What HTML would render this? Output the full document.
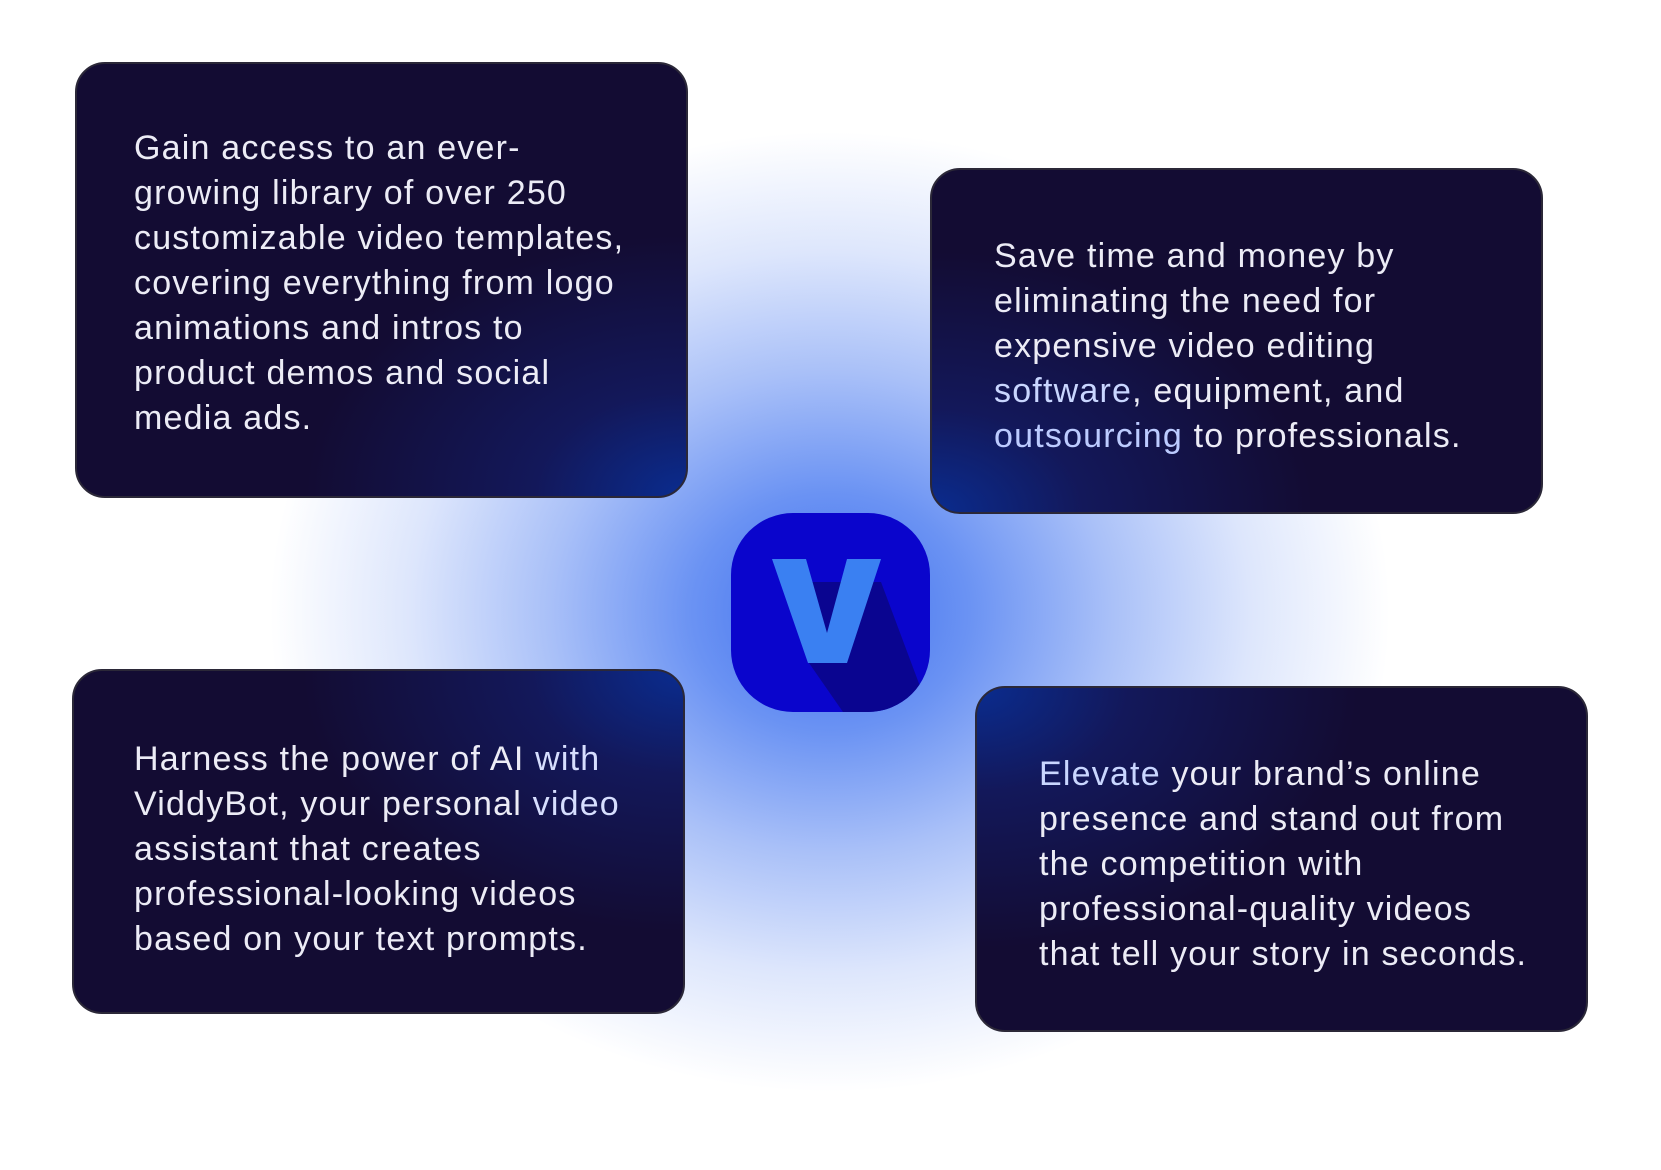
<!DOCTYPE html>
<html><head><meta charset="utf-8"><style>
html,body{margin:0;padding:0;}
body{width:1661px;height:1170px;position:relative;overflow:hidden;background:#fff;font-family:"Liberation Sans",sans-serif;}
.glow{position:absolute;left:0;top:0;width:1661px;height:1170px;
background:radial-gradient(ellipse 560px 480px at 830px 612px,#3f6ff0 0%,#6b93f3 25%,#a9c0f8 50%,#dde6fc 75%,rgba(255,255,255,0) 100%);}
.box{position:absolute;box-sizing:border-box;border:2.5px solid #2b2838;border-radius:30px;background:#130c33;overflow:hidden;}
.box .t{position:absolute;font-size:34px;line-height:45px;color:#ececf6;white-space:nowrap;letter-spacing:1.2px;}
#b1{left:75px;top:62px;width:613px;height:436px;background:radial-gradient(ellipse 380px 260px at 100% 100%,#0a2c8f 0%,#13185a 40%,#130c33 100%);}
#b2{left:930px;top:168px;width:613px;height:346px;background:radial-gradient(ellipse 380px 260px at 0% 100%,#0a2c8f 0%,#13185a 40%,#130c33 100%);}
#b3{left:72px;top:669px;width:613px;height:345px;background:radial-gradient(ellipse 380px 260px at 100% 0%,#0a2c8f 0%,#13185a 40%,#130c33 100%);}
#b4{left:975px;top:686px;width:613px;height:346px;background:radial-gradient(ellipse 380px 260px at 0% 0%,#0a2c8f 0%,#13185a 40%,#130c33 100%);}
.icon{position:absolute;left:731px;top:513px;width:199px;height:199px;border-radius:62px;background:#0a05cc;overflow:hidden;}
</style></head><body>
<div class="glow"></div>
<div class="box" id="b1"><div class="t" style="left:57px;top:62px">Gain access to an ever-<br>growing library of over 250<br>customizable video templates,<br>covering everything from logo<br>animations and intros to<br>product demos and social<br>media ads.</div></div>
<div class="box" id="b2"><div class="t" style="left:62px;top:64px">Save time and money by<br>eliminating the need for<br>expensive video editing<br><span style="color:#c9d6ff">software</span>, equipment, and<br><span style="color:#bccbff">outsourcing</span> to professionals.</div></div>
<div class="box" id="b3"><div class="t" style="left:60px;top:66px">Harness the power of AI <span style="color:#d6defe">with</span><br>ViddyBot, your personal <span style="color:#d6defe">video</span><br>assistant that creates<br>professional-looking videos<br>based on your text prompts.</div></div>
<div class="box" id="b4"><div class="t" style="left:62px;top:64px"><span style="color:#c9d6ff">Elevate</span> your brand’s online<br>presence and stand out from<br>the competition with<br>professional-quality videos<br>that tell your story in seconds.</div></div>
<div class="icon">
<svg width="199" height="199" viewBox="0 0 199 199">
<polygon points="74,69 150,69 199,200 199,199 112,199 78,150 " fill="#0a0590"/>
<polygon points="41,46 75,46 96,120 116,46 150,46 116,150 77,150" fill="#3a80f2"/>
</svg>
</div>
</body></html>
